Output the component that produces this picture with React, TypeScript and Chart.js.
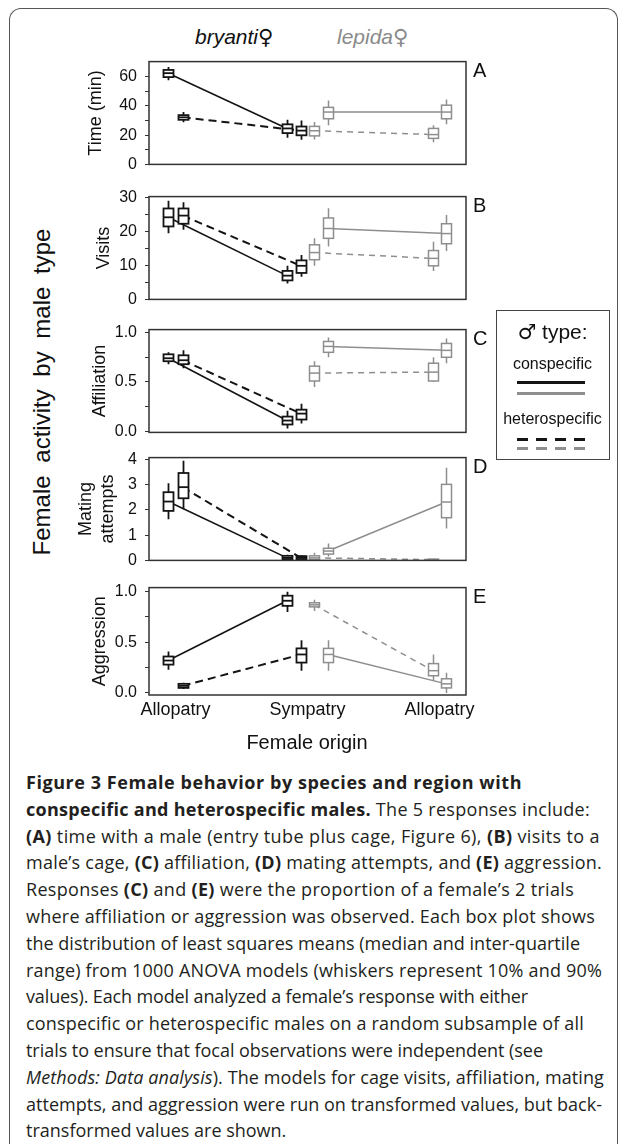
import React, { useEffect, useLayoutEffect, useRef } from 'react';
import { Chart, registerables } from 'chart.js';

Chart.register(...registerables);

const SANS = "'Liberation Sans', Arial, sans-serif";

// ---------- data ----------
const xLabels = ['Allopatry', 'Sympatry', 'Allopatry'];
// x position (0 = bryanti allopatry, 1 = sympatry, 2 = lepida allopatry)
const bryConX = [-0.055, 0.845];
const bryHetX = [0.055, 0.95];
const lepHetX = [1.05, 1.95];
const lepConX = [1.155, 2.05];

// each box: [p10, q1, median, q3, p90]
const timeBryCon = [[57.5, 59.7, 62.4, 64.6, 66.6], [18.2, 21.4, 24.6, 27.4, 30.5]];
const timeBryHet = [[28.9, 30.5, 32.2, 33.7, 35.8], [16.8, 19.9, 23.1, 25.9, 30.1]];
const timeLepCon = [[26.7, 31.2, 35.8, 39.0, 43.7], [27.4, 31.2, 35.8, 40.5, 44.4]];
const timeLepHet = [[17.0, 19.5, 23.0, 26.0, 29.0], [15.1, 17.8, 20.4, 24.6, 26.7]];

const visitBryCon = [[19.5, 21.5, 24.2, 26.8, 29.1], [4.7, 5.6, 7.0, 8.4, 9.9]];
const visitBryHet = [[20.5, 22.3, 24.7, 26.8, 28.6], [6.7, 7.8, 9.9, 11.5, 13.1]];
const visitLepCon = [[15.6, 18.0, 20.9, 24.0, 26.9], [14.3, 16.4, 19.4, 22.3, 24.9]];
const visitLepHet = [[9.9, 11.7, 13.8, 16.1, 18.0], [8.4, 9.9, 12.1, 14.4, 17.0]];

const affBryCon = [[0.68, 0.71, 0.74, 0.78, 0.8], [0.03, 0.07, 0.11, 0.15, 0.21]];
const affBryHet = [[0.64, 0.68, 0.72, 0.77, 0.82], [0.08, 0.12, 0.18, 0.22, 0.28]];
const affLepCon = [[0.75, 0.8, 0.86, 0.91, 0.95], [0.69, 0.75, 0.82, 0.89, 0.94]];
const affLepHet = [[0.45, 0.51, 0.59, 0.66, 0.71], [0.5, 0.51, 0.6, 0.69, 0.75]];

const mateBryCon = [[1.63, 1.96, 2.33, 2.7, 3.05], [0.02, 0.05, 0.1, 0.18, 0.22]];
const mateBryHet = [[2.03, 2.46, 2.9, 3.46, 3.95], [0.02, 0.05, 0.1, 0.17, 0.2]];
const mateLepCon = [[0.15, 0.25, 0.37, 0.48, 0.67], [1.26, 1.69, 2.31, 3.01, 3.67]];
const mateLepHet = [[0.0, 0.04, 0.1, 0.18, 0.3], [0.0, 0.01, 0.03, 0.05, 0.07]];

const aggBryCon = [[0.23, 0.28, 0.32, 0.36, 0.41], [0.8, 0.86, 0.91, 0.96, 1.0]];
const aggBryHet = [[0.04, 0.05, 0.07, 0.09, 0.1], [0.22, 0.3, 0.38, 0.44, 0.52]];
const aggLepCon = [[0.22, 0.3, 0.38, 0.44, 0.52], [0.0, 0.05, 0.09, 0.14, 0.2]];
const aggLepHet = [[0.81, 0.85, 0.87, 0.89, 0.92], [0.12, 0.17, 0.22, 0.29, 0.38]];

const timeTicks = [0, 10, 20, 30, 40, 50, 60];
const timeTickLabels = ['0', '', '20', '', '40', '', '60'];
const visitTicks = [0, 5, 10, 15, 20, 25, 30];
const visitTickLabels = ['0', '', '10', '', '20', '', '30'];
const propTicks = [0, 0.25, 0.5, 0.75, 1];
const propTickLabels = ['0.0', '', '0.5', '', '1.0'];
const mateTicks = [0, 1, 2, 3, 4];
const mateTickLabels = ['0', '1', '2', '3', '4'];

// ---------- styles ----------
const BLACK = '#141414';
const GRAY = '#8e8e8e';

const seriesStyle = [
  { color: BLACK, dash: [], lw: 1.6, boxLw: 1.8, xs: bryConX },
  { color: BLACK, dash: [8, 5], lw: 2, boxLw: 1.8, xs: bryHetX },
  { color: GRAY, dash: [], lw: 1.5, boxLw: 1.5, xs: lepConX },
  { color: GRAY, dash: [6, 5], lw: 1.5, boxLw: 1.5, xs: lepHetX },
];

const panels = [
  { letter: 'A', title: 'Time (min)', series: [timeBryCon, timeBryHet, timeLepCon, timeLepHet], min: 0, max: 70.3, ticks: timeTicks, labels: timeTickLabels, top: 58, h: 110, titleX: 96 },
  { letter: 'B', title: 'Visits', series: [visitBryCon, visitBryHet, visitLepCon, visitLepHet], min: 0, max: 30.3, ticks: visitTicks, labels: visitTickLabels, top: 193, h: 110, titleX: 104 },
  { letter: 'C', title: 'Affiliation', series: [affBryCon, affBryHet, affLepCon, affLepHet], min: -0.01, max: 1.03, ticks: propTicks, labels: propTickLabels, top: 326, h: 110, titleX: 100 },
  { letter: 'D', title: ['Mating', 'attempts'], series: [mateBryCon, mateBryHet, mateLepCon, mateLepHet], min: 0, max: 4.07, ticks: mateTicks, labels: mateTickLabels, top: 454, h: 110, titleX: 86 },
  { letter: 'E', title: 'Aggression', series: [aggBryCon, aggBryHet, aggLepCon, aggLepHet], min: -0.02, max: 1.04, ticks: propTicks, labels: propTickLabels, top: 584, h: 111, titleX: 100 },
];

const PLOT_LEFT = 149;
const PLOT_RIGHT = 466;
const PAGE_W = 625;
const PAD_TOP = 14;

function Panel({ p, showX }: { p: any; showX: boolean }) {
  const ref = useRef<HTMLCanvasElement | null>(null);
  const padBottom = showX ? 0 : 14;
  const xAxisH = showX ? 42 : 0;
  const height = PAD_TOP + p.h + padBottom + xAxisH;
  useEffect(() => {
    if (!ref.current) return;
    const titleLeft = p.titleX - 10.8;
    const boxes: any[] = [];
    const datasets = p.series.map((stats: number[][], si: number) => {
      const st = seriesStyle[si];
      stats.forEach((s, k) => boxes.push({ x: st.xs[k], s, color: st.color, lw: st.boxLw }));
      return {
        data: stats.map((s, k) => ({ x: st.xs[k], y: s[2] })),
        showLine: true,
        borderColor: st.color,
        borderWidth: st.lw,
        borderDash: st.dash,
        pointRadius: 0,
        fill: false,
      };
    });
    const boxPlugin = {
      id: 'boxplots',
      afterDatasetsDraw(chart: any) {
        const { ctx, chartArea, scales } = chart;
        const xs = scales.x;
        const ys = scales.y;
        ctx.save();
        boxes.forEach((b) => {
          const px = Math.round(xs.getPixelForValue(b.x)) + 0.5;
          const [lo, q1, med, q3, hi] = b.s.map((v: number) => ys.getPixelForValue(v));
          ctx.strokeStyle = b.color;
          ctx.lineWidth = b.lw;
          ctx.setLineDash([]);
          ctx.beginPath();
          ctx.moveTo(px, lo);
          ctx.lineTo(px, q1);
          ctx.moveTo(px, q3);
          ctx.lineTo(px, hi);
          ctx.stroke();
          ctx.fillStyle = '#ffffff';
          ctx.fillRect(px - 5, q3, 10, q1 - q3);
          ctx.strokeRect(px - 5, q3, 10, q1 - q3);
          ctx.beginPath();
          ctx.moveTo(px - 5, med);
          ctx.lineTo(px + 5, med);
          ctx.stroke();
        });
        ctx.strokeStyle = '#333';
        ctx.lineWidth = 1.5;
        ctx.strokeRect(chartArea.left, chartArea.top, chartArea.right - chartArea.left, chartArea.bottom - chartArea.top);
        ctx.restore();
      },
    };
    const chart = new Chart(ref.current, {
      type: 'scatter',
      data: { datasets },
      options: {
        responsive: false,
        animation: false,
        devicePixelRatio: 1,
        layout: { padding: { left: titleLeft, right: PAGE_W - PLOT_RIGHT, top: PAD_TOP, bottom: padBottom } },
        plugins: { legend: { display: false }, tooltip: { enabled: false } },
        scales: {
          x: {
            type: 'linear',
            min: -0.2,
            max: 2.2,
            display: showX,
            afterBuildTicks: (ax: any) => {
              ax.ticks = [0, 1, 2].map((v) => ({ value: v }));
            },
            afterFit: (s: any) => {
              s.height = xAxisH;
            },
            ticks: {
              autoSkip: false,
              maxRotation: 0,
              padding: 4,
              color: '#111',
              font: { family: SANS, size: 18 },
              callback: (_v: any, i: number) => xLabels[i],
            },
            grid: { display: false, drawTicks: false },
            border: { display: false },
          },
          y: {
            type: 'linear',
            min: p.min,
            max: p.max,
            afterBuildTicks: (ax: any) => {
              ax.ticks = p.ticks.map((v: number) => ({ value: v }));
            },
            afterFit: (s: any) => {
              s.width = PLOT_LEFT - titleLeft;
            },
            ticks: {
              autoSkip: false,
              padding: 8,
              color: '#111',
              font: { family: SANS, size: 16 },
              callback: (_v: any, i: number) => p.labels[i],
            },
            grid: { display: true, drawOnChartArea: false, drawTicks: true, tickLength: 4, color: '#333', lineWidth: 1 },
            border: { display: false },
            title: {
              display: true,
              text: p.title,
              padding: 0,
              color: '#111',
              font: { family: SANS, size: 18 },
            },
          },
        },
      },
      plugins: [boxPlugin],
    } as any);
    return () => chart.destroy();
  }, []);
  return (
    <canvas
      ref={ref}
      width={PAGE_W}
      height={height}
      style={{ position: 'absolute', left: 0, top: p.top - PAD_TOP, width: PAGE_W, height }}
    />
  );
}

// caption lines and the width each line takes in the figure (0 = natural width)
const captionLines: React.ReactNode[] = [
  <b>Figure 3 Female behavior by species and region with</b>,
  <><b>conspecific and heterospecific males.</b> The 5 responses include:</>,
  <><b>(A)</b> time with a male (entry tube plus cage, Figure 6), <b>(B)</b> visits to a</>,
  <>male’s cage, <b>(C)</b> affiliation, <b>(D)</b> mating attempts, and <b>(E)</b> aggression.</>,
  <>Responses <b>(C)</b> and <b>(E)</b> were the proportion of a female’s 2 trials</>,
  <>where affiliation or aggression was observed. Each box plot shows</>,
  <>the distribution of least squares means (median and inter-quartile</>,
  <>range) from 1000 ANOVA models (whiskers represent 10% and 90%</>,
  <>values). Each model analyzed a female’s response with either</>,
  <>conspecific or heterospecific males on a random subsample of all</>,
  <>trials to ensure that focal observations were independent (see</>,
  <><i>Methods: Data analysis</i>). The models for cage visits, affiliation, mating</>,
  <>attempts, and aggression were run on transformed values, but back-</>,
  <>transformed values are shown.</>,
];
const captionWidths = [496, 564, 574, 576, 548, 569, 554, 576, 502, 558, 517, 578, 576, 0];

function Caption() {
  const refs = useRef<(HTMLSpanElement | null)[]>([]);
  useLayoutEffect(() => {
    refs.current.forEach((el, i) => {
      if (!el || !captionWidths[i]) return;
      el.style.letterSpacing = '0px';
      const w = el.getBoundingClientRect().width;
      const n = (el.textContent || '').length;
      const ls = (captionWidths[i] - w) / Math.max(1, n);
      el.style.letterSpacing = `${Math.max(-1.2, Math.min(1.2, ls)).toFixed(3)}px`;
    });
  }, []);
  return (
    <div
      style={{
        position: 'absolute',
        left: 26,
        top: 769,
        fontFamily: "'Open Sans', sans-serif",
        fontSize: 18,
        lineHeight: '26.8px',
        color: '#231f20',
        whiteSpace: 'nowrap',
      }}
    >
      {captionLines.map((line, i) => (
        <div key={i}>
          <span ref={(el) => { refs.current[i] = el; }} style={{ display: 'inline-block' }}>
            {line}
          </span>
        </div>
      ))}
    </div>
  );
}

export default function App() {
  return (
    <div>
      <div
        style={{
          position: 'absolute',
          left: 9,
          top: 8,
          width: 609,
          height: 1136,
          border: '1.5px solid #555',
          borderBottom: 'none',
          borderRadius: '12px 12px 0 0',
          boxSizing: 'border-box',
        }}
      />
      <div style={{ position: 'absolute', left: 195, top: 24, fontFamily: SANS, fontSize: 21, lineHeight: '26px', color: '#111', whiteSpace: 'nowrap' }}>
        <i>bryanti</i>
        <span style={{ fontFamily: "'DejaVu Sans', sans-serif", fontWeight: 'bold' }}>♀</span>
      </div>
      <div style={{ position: 'absolute', left: 337, top: 24, fontFamily: SANS, fontSize: 21, lineHeight: '26px', color: '#8a8a8a', whiteSpace: 'nowrap' }}>
        <i>lepida</i>
        <span style={{ fontFamily: "'DejaVu Sans', sans-serif" }}>♀</span>
      </div>
      <div
        style={{
          position: 'absolute',
          left: 42,
          top: 392,
          transform: 'translate(-50%, -50%) rotate(-90deg)',
          fontFamily: SANS,
          fontSize: 24,
          wordSpacing: 6,
          whiteSpace: 'nowrap',
          color: '#111',
        }}
      >
        Female activity by male type
      </div>
      {panels.map((p, i) => (
        <Panel key={p.letter} p={p} showX={i === panels.length - 1} />
      ))}
      {panels.map((p) => (
        <div key={'l' + p.letter} style={{ position: 'absolute', left: 473, top: p.top + 2, fontFamily: SANS, fontSize: 20, lineHeight: '20px', color: '#111' }}>
          {p.letter}
        </div>
      ))}
      <div style={{ position: 'absolute', left: 496, top: 310, width: 114, height: 150, border: '1.5px solid #444', boxSizing: 'border-box', fontFamily: SANS, color: '#111' }}>
        <div style={{ position: 'absolute', left: 0, width: 111, top: 8, textAlign: 'center', fontSize: 21, lineHeight: '26px', whiteSpace: 'nowrap' }}>
          <span style={{ fontFamily: "'DejaVu Sans', sans-serif", fontWeight: 'bold' }}>♂</span> type:
        </div>
        <div style={{ position: 'absolute', left: 0, width: 111, top: 43, textAlign: 'center', fontSize: 16, lineHeight: '20px' }}>conspecific</div>
        <div style={{ position: 'absolute', left: 20, width: 68, top: 70, height: 3, background: BLACK }} />
        <div style={{ position: 'absolute', left: 20, width: 68, top: 81, height: 3, background: GRAY }} />
        <div style={{ position: 'absolute', left: 0, width: 111, top: 98, textAlign: 'center', fontSize: 16, lineHeight: '20px' }}>heterospecific</div>
        <div style={{ position: 'absolute', left: 20, width: 68, top: 127, height: 3, background: `repeating-linear-gradient(to right, ${BLACK} 0 11px, transparent 11px 19px)` }} />
        <div style={{ position: 'absolute', left: 20, width: 68, top: 136, height: 3, background: `repeating-linear-gradient(to right, ${GRAY} 0 11px, transparent 11px 19px)` }} />
      </div>
      <div style={{ position: 'absolute', left: 207, width: 200, top: 730, textAlign: 'center', fontFamily: SANS, fontSize: 20, lineHeight: '24px', color: '#111' }}>
        Female origin
      </div>
      <Caption />
    </div>
  );
}
